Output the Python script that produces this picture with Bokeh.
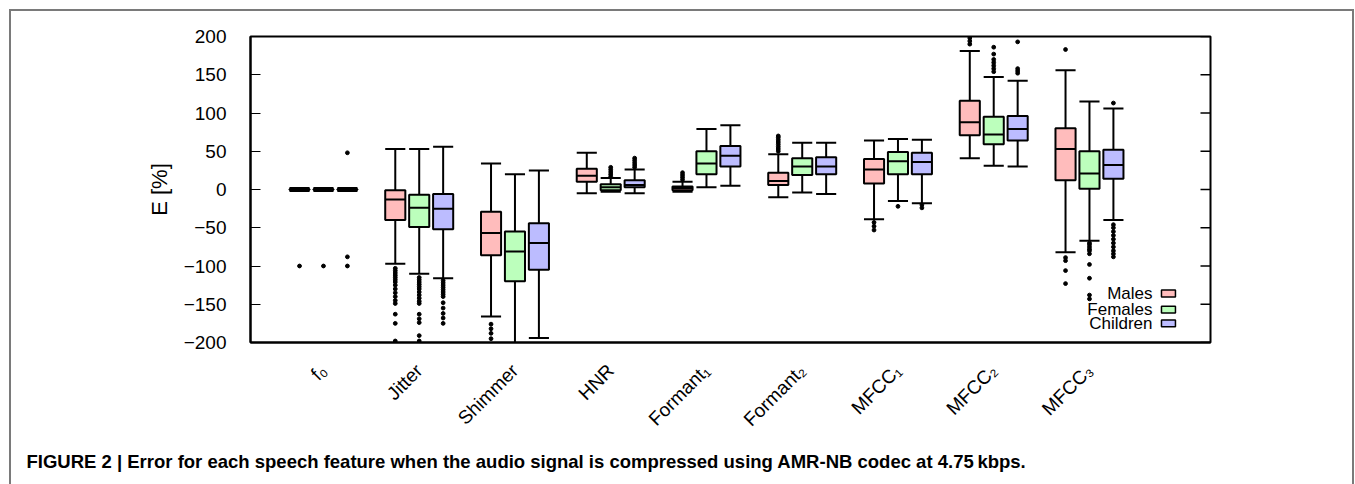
import math
from bokeh.plotting import figure
from bokeh.models import Range1d, FixedTicker, Label, Title, ColumnDataSource
from bokeh.embed import file_html
from bokeh.resources import INLINE

# ---------------- data ----------------
features = ["f\u2080", "Jitter", "Shimmer", "HNR", "Formant\u2081", "Formant\u2082",
            "MFCC\u2081", "MFCC\u2082", "MFCC\u2083"]
groups = ["Males", "Females", "Children"]
colors = ["#ffbcbc", "#bcffbc", "#bcbcff"]
y_ticks = [-200, -150, -100, -50, 0, 50, 100, 150, 200]

# per group: lower whisker, Q1, median, Q3, upper whisker (one value per feature)
males_lw  = [-2, -97, -166, -5, -3, -10, -39, 41, -82]
males_q1  = [-0.3, -40, -86, 10, -1, 6, 8, 71, 12]
males_med = [0, -13, -57, 18, 2, 11, 26, 88, 53]
males_q3  = [0.3, -1, -29, 27, 4, 22, 40, 116, 80]
males_uw  = [2, 53, 34, 48, 10, 46, 64, 181, 156]

females_lw  = [-2, -110, -215, -3, 3, -4, -15, 31, -67]
females_q1  = [-0.3, -49, -120, -1, 20, 19, 20, 59, 1]
females_med = [0, -24, -81, 3, 34, 30, 37, 72, 21]
females_q3  = [0.3, -7, -55, 7, 50, 41, 49, 95, 50]
females_uw  = [2, 53, 20, 15, 79, 61, 66, 147, 115]

children_lw  = [-2, -116, -194, -5, 5, -6, -18, 30, -40]
children_q1  = [-0.3, -52, -105, 3, 30, 20, 20, 64, 14]
children_med = [0, -25, -70, 6, 44, 30, 36, 79, 32]
children_q3  = [0.3, -6, -44, 12, 57, 42, 48, 96, 52]
children_uw  = [2, 56, 25, 26, 84, 61, 65, 142, 106]

# outliers: (feature index, value)
males_out_feat = [0, 1, 1, 1, 1, 1, 1, 1, 1, 1, 1, 1, 1, 1, 1, 1, 1, 2, 2, 2, 2,
                  4, 4, 4, 4, 5, 5, 5, 5, 5, 5, 5, 5, 6, 6, 6, 7, 7, 7, 8, 8, 8, 8, 8]
males_out_val = [-100, -103, -106, -109, -112, -115, -118, -121, -125, -130, -135, -140,
                 -145, -149, -163, -175, -198, -176, -182, -188, -195,
                 13, 16, 19, 22, 50, 53, 56, 59, 62, 65, 68, 70, -43, -48, -53,
                 190, 194, 198, 183, -89, -93, -106, -123]

females_out_feat = [0, 1, 1, 1, 1, 1, 1, 1, 1, 1, 1, 1, 1, 1, 1, 1, 1, 3, 3, 3, 3, 3,
                    6, 7, 7, 7, 7, 7, 7, 7, 8, 8, 8, 8, 8, 8, 8, 8, 8, 8]
females_out_val = [-100, -115, -118, -121, -124, -127, -130, -134, -138, -142, -146, -149,
                   -163, -169, -174, -191, -198, 17, 20, 23, 26, 29,
                   -22, 186, 177, 170, 166, 162, 158, 154,
                   -70, -72, -75, -78, -80, -84, -98, -116, -138, -143]

children_out_feat = [0, 0, 0, 1, 1, 1, 1, 1, 1, 1, 1, 1, 1, 1, 1, 1, 3, 3, 3, 3, 3,
                     6, 6, 7, 7, 7, 7, 8, 8, 8, 8, 8, 8, 8, 8, 8, 8, 8]
children_out_val = [48, -88, -100, -119, -122, -125, -128, -131, -134, -137, -140, -148,
                    -155, -162, -168, -175, 29, 32, 35, 38, 41,
                    -20, -24, 193, 152, 155, 158,
                    113, -46, -50, -55, -60, -65, -70, -75, -80, -84, -88]

caption = ("FIGURE 2 | Error for each speech feature when the audio signal is "
           "compressed using AMR-NB codec at 4.75\u2009kbps.")

# ---------------- figure ----------------
FONT = "Liberation Sans"
X0, X1 = 0.238, 10.264
FRAME_W = 960
p = figure(frame_width=FRAME_W, frame_height=306, min_border_left=250, min_border_right=145,
           min_border_top=36, min_border_bottom=142, output_backend="svg",
           toolbar_location=None, x_range=Range1d(X0, X1),
           y_range=Range1d(-200, 200), background_fill_color="white",
           border_fill_color=None)
p.styles = {
    "background": ("linear-gradient(#7a7a7a,#7a7a7a) 9px 9px / 1345px 2px no-repeat, "
                   "linear-gradient(#7a7a7a,#7a7a7a) 9px 9px / 2px 480px no-repeat, "
                   "linear-gradient(#7a7a7a,#7a7a7a) 1352px 9px / 2px 480px no-repeat, white"),
}
p.xgrid.visible = False
p.ygrid.visible = False
p.outline_line_color = "black"
p.outline_line_width = 2

stats = [
    (males_lw, males_q1, males_med, males_q3, males_uw, males_out_feat, males_out_val),
    (females_lw, females_q1, females_med, females_q3, females_uw, females_out_feat, females_out_val),
    (children_lw, children_q1, children_med, children_q3, children_uw, children_out_feat, children_out_val),
]
offsets = [-0.25, 0.0, 0.25]
bw = 0.21
for (lw, q1, med, q3, uw, of, ov), off, col in zip(stats, offsets, colors):
    xs = [i + 1 + off for i in range(len(features))]
    src = ColumnDataSource(dict(x=xs, lw=lw, q1=q1, med=med, q3=q3, uw=uw,
                                x0=[x - bw / 2 for x in xs], x1=[x + bw / 2 for x in xs]))
    # whiskers
    p.segment(x0="x", y0="q3", x1="x", y1="uw", source=src, line_color="black", line_width=2)
    p.segment(x0="x", y0="q1", x1="x", y1="lw", source=src, line_color="black", line_width=2)
    p.segment(x0="x0", y0="uw", x1="x1", y1="uw", source=src, line_color="black", line_width=2)
    p.segment(x0="x0", y0="lw", x1="x1", y1="lw", source=src, line_color="black", line_width=2)
    # boxes
    p.vbar(x="x", width=bw, top="q3", bottom="q1", source=src, fill_color=col,
           line_color="black", line_width=2)
    p.segment(x0="x0", y0="med", x1="x1", y1="med", source=src, line_color="black", line_width=2)
    # outliers
    p.scatter([f + 1 + off for f in of], ov, size=3.8, color="black", marker="circle")

# y axis (left) with inward ticks
p.yaxis.ticker = FixedTicker(ticks=y_ticks)
p.yaxis.major_tick_in = 10
p.yaxis.major_tick_out = 0
p.yaxis.minor_tick_in = 0
p.yaxis.minor_tick_out = 0
p.yaxis.major_label_standoff = 24
p.yaxis.major_label_text_font = FONT
p.yaxis.major_label_text_font_size = "19px"
p.yaxis.major_label_text_color = "black"
p.yaxis.axis_label = "E [%]"
p.yaxis.axis_label_text_font = FONT
p.yaxis.axis_label_text_font_style = "normal"
p.yaxis.axis_label_text_font_size = "22px"
p.yaxis.axis_label_text_color = "black"
p.yaxis.axis_label_standoff = 9
p.yaxis.axis_line_width = 2

# mirrored inward ticks on the right frame edge
tick_len = 10 * (X1 - X0) / FRAME_W
p.segment(x0=[X1 - tick_len] * len(y_ticks), y0=y_ticks, x1=[X1] * len(y_ticks), y1=y_ticks,
          line_color="black", line_width=1.5)

# x axis
p.xaxis.ticker = FixedTicker(ticks=list(range(1, len(features) + 1)))
p.xaxis.major_label_overrides = {i + 1: f for i, f in enumerate(features)}
p.xaxis.major_label_orientation = math.pi / 4
p.xaxis.major_tick_in = 0
p.xaxis.major_tick_out = 0
p.xaxis.minor_tick_in = 0
p.xaxis.minor_tick_out = 0
p.xaxis.major_label_text_font = FONT
p.xaxis.major_label_text_font_size = "19px"
p.xaxis.major_label_text_color = "black"
p.xaxis.major_label_standoff = 25
p.xaxis.axis_line_width = 2

# legend (manual: text right-aligned, swatch on the right)
leg_text_x = 9.658
leg_box_x0, leg_box_x1 = 9.752, 9.898
leg_y = [-136, -157, -175]
leg_h = 9.0
for name, col, yy in zip(groups, colors, leg_y):
    p.add_layout(Label(x=leg_text_x, y=yy, text=name, text_align="right",
                       text_baseline="middle", text_font=FONT, text_font_size="17px",
                       text_color="black"))
    p.quad(left=[leg_box_x0], right=[leg_box_x1], top=[yy + leg_h / 2], bottom=[yy - leg_h / 2],
           fill_color=col, line_color="black", line_width=1.5)

# caption below the chart
p.add_layout(Title(text=caption, align="left", offset=-224, standoff=16,
                   text_font=FONT, text_font_style="bold", text_font_size="18.5px",
                   text_color="black"), "below")

open("out.html", "w").write(file_html(p, INLINE))
